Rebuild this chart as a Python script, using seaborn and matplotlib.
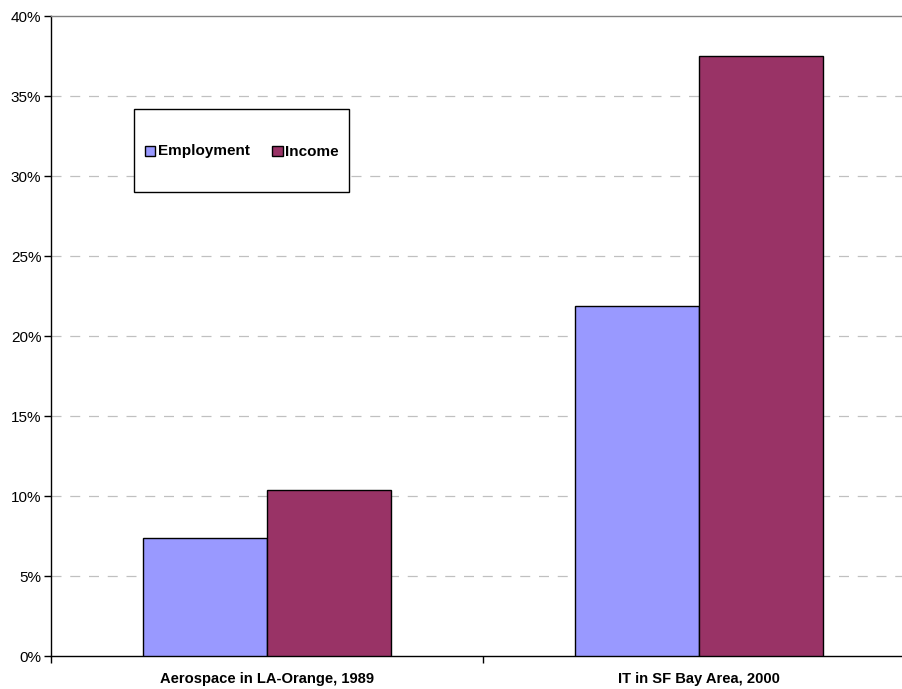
import matplotlib
matplotlib.use("Agg")
import matplotlib.pyplot as plt
from matplotlib.patches import Rectangle
from matplotlib.ticker import FixedLocator, FuncFormatter
import seaborn as sns
import pandas as pd

# Data
categories = ["Aerospace in LA-Orange, 1989", "IT in SF Bay Area, 2000"]
series = ["Employment", "Income"]
employment = [7.4, 21.9]
income = [10.4, 37.5]
colors = ["#9999FF", "#993366"]
y_ticks = [0, 5, 10, 15, 20, 25, 30, 35, 40]

df = pd.DataFrame({
    "category": categories * 2,
    "series": [series[0]] * len(categories) + [series[1]] * len(categories),
    "value": employment + income,
})

sns.set_theme(style="white")
plt.rcParams["font.family"] = ["Liberation Sans", "DejaVu Sans"]

W, H = 903, 689
fig = plt.figure(figsize=(W / 100, H / 100), dpi=100)
ax = fig.add_axes([51 / W, (H - 656) / H, (W - 51) / W, (656 - 16) / H])

sns.barplot(data=df, x="category", y="value", hue="series", order=categories,
            hue_order=series, palette=colors, width=0.572, gap=0,
            edgecolor="black", linewidth=1.0, saturation=1, ax=ax,
            legend=False, zorder=3)

ax.set_xlim(-0.5, 1.5 - 12 / 432)
ax.set_ylim(0, 40)

# Y axis
ax.yaxis.set_major_locator(FixedLocator(y_ticks))
ax.yaxis.set_major_formatter(FuncFormatter(lambda v, p: f"{int(v)}%"))
ax.tick_params(axis="y", which="major", left=True, length=5, width=1,
               color="black", pad=2, labelsize=11, labelcolor="black")
for y in y_ticks[1:-1]:
    ax.axhline(y, color="#c0c0c0", linewidth=0.9, linestyle=(0, (8, 7)), zorder=1)

# X axis: labels at categories, tick marks between categories
ax.set_xticks([0, 1])
ax.set_xticklabels(categories, fontweight="bold", fontsize=10.6)
ax.xaxis.set_minor_locator(FixedLocator([-0.5, 0.5, 1.5]))
ax.tick_params(axis="x", which="major", bottom=False, length=0, pad=11.5,
               labelcolor="black")
ax.tick_params(axis="x", which="minor", bottom=True, length=5, width=1,
               color="black")
ax.set_xlabel("")
ax.set_ylabel("")

# Frame
ax.spines["left"].set_color("black")
ax.spines["bottom"].set_color("black")
ax.spines["left"].set_linewidth(1.0)
ax.spines["bottom"].set_linewidth(1.0)
ax.spines["top"].set_visible(True)
ax.spines["top"].set_color("#808080")
ax.spines["top"].set_linewidth(1.0)
ax.spines["right"].set_visible(False)

# Legend: boxed frame with swatches and bold labels
def fx(px):
    return px / W

def fy(py):
    return (H - py) / H

fig.patches.append(Rectangle((fx(134), fy(192)), fx(349) - fx(134), fy(109) - fy(192),
                             transform=fig.transFigure, facecolor="white",
                             edgecolor="black", linewidth=1.0, zorder=5))
legend_swatch_x = [145, 272]
legend_cy = 151
sw = 10.5
for name, color, sx in zip(series, colors, legend_swatch_x):
    fig.patches.append(Rectangle((fx(sx), fy(legend_cy + sw / 2)), sw / W, sw / H,
                                 transform=fig.transFigure, facecolor=color,
                                 edgecolor="black", linewidth=1.0, zorder=6))
    fig.text(fx(sx + sw + 3), fy(legend_cy + 4.5), name, ha="left", va="baseline",
             fontsize=11, fontweight="bold", color="black", zorder=7)

fig.savefig("out.png", dpi=100, facecolor="white")
